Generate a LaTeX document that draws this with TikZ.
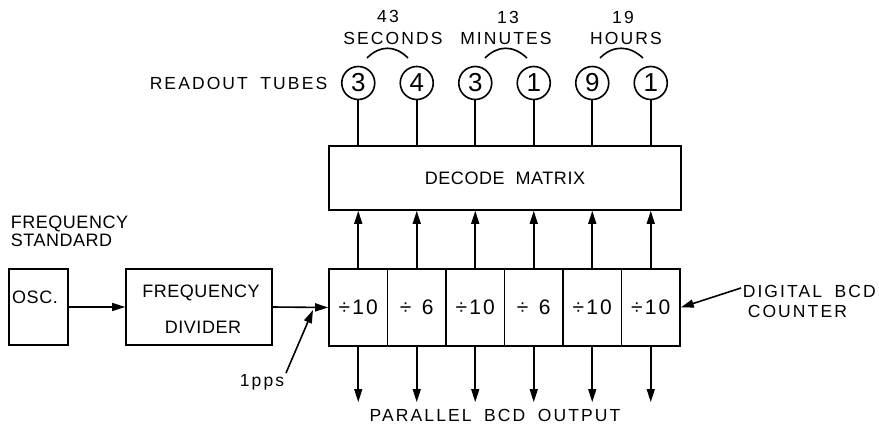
\documentclass[tikz,border=0pt]{standalone}
\usepackage{fontspec}
\newfontfamily\lab[LetterSpace=12,WordSpace=1.8]{Liberation Sans}
\newfontfamily\labb[LetterSpace=3,WordSpace=2]{Liberation Sans}
\newfontfamily\dig{Liberation Sans}
\newfontfamily\celf[LetterSpace=10]{Liberation Sans}
\usetikzlibrary{arrows.meta}
\begin{document}
\begin{tikzpicture}[x=1pt,y=-1pt,line width=1.6pt,
  every node/.style={inner sep=0pt},
  >={Triangle[length=13pt,width=8pt]},
  txt/.style={font=\lab\fontsize{17.5}{17.5}\selectfont},
  big/.style={font=\labb\fontsize{18}{18}\selectfont},
  box/.style={draw,line width=1.6pt},
  cell/.style={box,minimum width=58.5pt,minimum height=77pt,font=\celf\fontsize{21}{21}\selectfont},
  tube/.style={draw,circle,minimum size=33pt,font=\dig\fontsize{26}{26}\selectfont}]
\useasboundingbox (0,0) rectangle (879,431);
\fill[white] (0,0) rectangle (879,431);

% counter cells
\node[cell] (c1) at (358.25,307.5) {÷10};
\node[cell] (c2) at (416.75,307.5) {÷\enspace6};
\node[cell] (c3) at (475.25,307.5) {÷10};
\node[cell] (c4) at (533.75,307.5) {÷\enspace6};
\node[cell] (c5) at (592.25,307.5) {÷10};
\node[cell] (c6) at (650.75,307.5) {÷10};

% decode matrix
\node[box,minimum width=352pt,minimum height=64pt,big] (dm) at (505,178) {DECODE MATRIX};

% tubes
\node[tube] (t1) at (358.25,83) {3};
\node[tube] (t2) at (416.75,83) {4};
\node[tube] (t3) at (475.25,83) {3};
\node[tube] (t4) at (533.75,83) {1};
\node[tube] (t5) at (592.25,83) {9};
\node[tube] (t6) at (650.75,83) {1};

% labels top
\node[txt,anchor=base] (n43) at (388,22.5) {43};
\node[txt,anchor=base] (sec) at (393,44.5) {SECONDS};
\node[txt,anchor=base] (n13) at (508,23.5) {13};
\node[txt,anchor=base] (min) at (506,44.5) {MINUTES};
\node[txt,anchor=base] (n19) at (623,23.5) {19};
\node[txt,anchor=base] (hrs) at (626,44.5) {HOURS};
\node[txt,anchor=base east] (rt) at (328,89) {READOUT TUBES};

\draw (367,58) .. controls (380,45) and (395,45) .. (408,58);
\draw (485,58) .. controls (498,45) and (513,45) .. (527,58);
\draw (600,58) .. controls (613,45) and (629,45) .. (643,58);

% tube lines and counter-to-matrix arrows
\foreach \i in {1,...,6} {
  \draw (t\i.south) -- (t\i.south |- dm.north);
  \draw[->] (c\i.north) -- (c\i.north |- dm.south);
}
\coordinate (outy) at (0,402);
\foreach \i in {1,...,6} {
  \draw[->] (c\i.south) -- (c\i.south |- outy);
}
\node[txt,anchor=base] (pbo) at (495,421) {PARALLEL BCD OUTPUT};

% left side
\node[big,anchor=base west] (fs1) at (10,228.5) {FREQUENCY};
\node[big,anchor=base west] (fs2) at (10,246.5) {STANDARD};
\node[box,minimum width=59pt,minimum height=76pt] (osc) at (38.5,307) {};
\node[big,anchor=base] (osct) at (35,303) {OSC.};
\node[box,minimum width=146pt,minimum height=76pt] (fd) at (199,307) {};
\node[big,anchor=base] (fdt1) at (201,297) {FREQUENCY};
\node[big,anchor=base] (fdt2) at (203,333) {DIVIDER};
\draw[->] (osc.east) -- (fd.west);
\draw[->] (fd.east) -- (c1.west);

% 1pps
\node[txt,anchor=base] (pps) at (262,386) {1pps};
\coordinate (ppsa) at (286,373);
\coordinate (ppsb) at (313,310);
\draw[->] (ppsa) -- (ppsb);

% digital BCD counter
\node[txt,anchor=base west] (dbc1) at (742,297) {DIGITAL BCD};
\node[txt,anchor=base west] (dbc2) at (747,317) {COUNTER};
\coordinate (dga) at (741,288);
\draw[->] (dga) -- (c6.east);
\end{tikzpicture}
\end{document}
